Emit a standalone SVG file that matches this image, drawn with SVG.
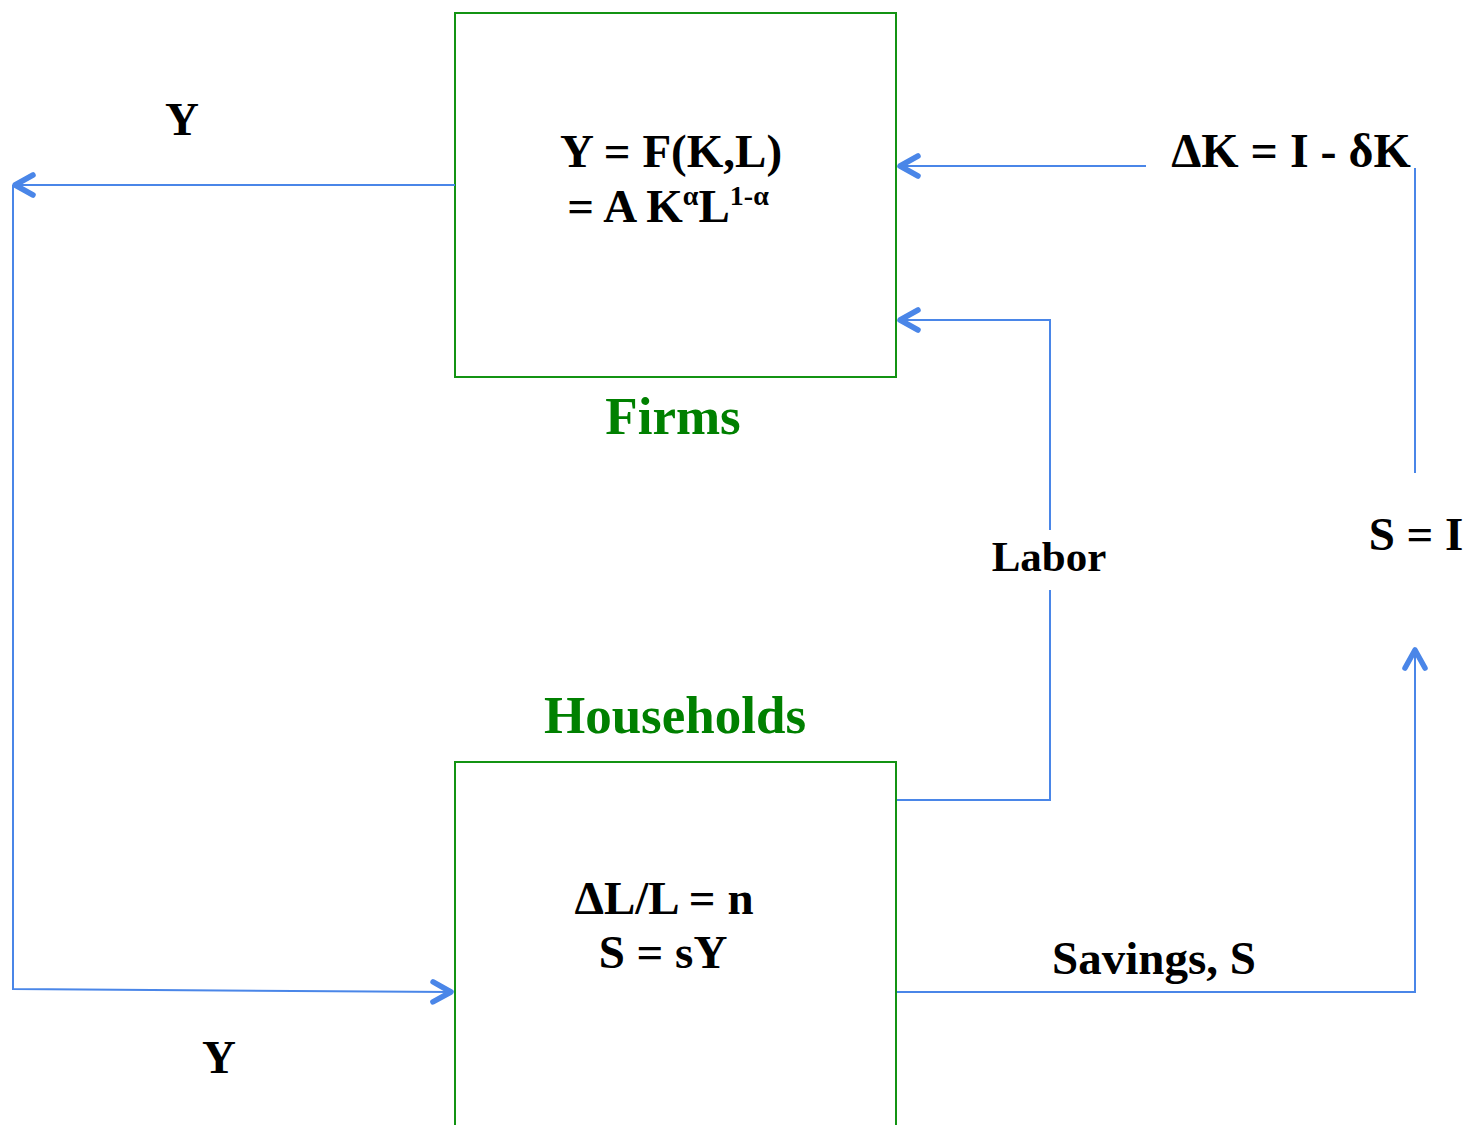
<svg xmlns="http://www.w3.org/2000/svg" width="1471" height="1125" viewBox="0 0 1471 1125">
<style>
  .box { fill: none; stroke: #139313; stroke-width: 2; }
  .t { font-family: "Liberation Serif", "Times New Roman", serif; font-weight: bold; fill: #000; text-anchor: middle; }
  .g { fill: #008000; font-size: 53px; }
  .c { fill: none; stroke: #4a86e8; stroke-width: 2; }
  .a { marker-end: url(#arr); }
</style>
<defs>
  <marker id="arr" markerUnits="userSpaceOnUse" markerWidth="40" markerHeight="40" viewBox="-25 -20 40 40" refX="0" refY="0" orient="auto" overflow="visible">
    <path d="M-18,-10 L0,0 L-18,10" fill="none" stroke="#4a86e8" stroke-width="5.5" stroke-linecap="round" stroke-linejoin="round"/>
  </marker>
</defs>
<rect width="1471" height="1125" fill="#fff"/>

<g id="firms">
  <rect class="box" x="455" y="13" width="441" height="364"/>
  <text class="t" x="671" y="167" font-size="47">Y = F(K,L)</text>
  <text class="t" x="668" y="222" font-size="47">= A K<tspan font-size="28" dy="-17">α</tspan><tspan dy="17">L</tspan><tspan font-size="28" dy="-17">1-α</tspan></text>
  <text class="t g" x="673" y="434">Firms</text>
</g>

<g id="households">
  <rect class="box" x="455" y="762" width="441" height="400"/>
  <text class="t g" x="675" y="733">Households</text>
  <text class="t" x="664" y="914" font-size="47">ΔL/L = n</text>
  <text class="t" x="663" y="968" font-size="47">S = sY</text>
</g>

<g id="connectors">
  <path class="c a" d="M455,185 H15"/>
  <path class="c a" d="M13,185 V989 L451,992"/>
  <path class="c a" d="M1146,166 H900"/>
  <path class="c" d="M1415,168 V473"/>
  <path class="c a" d="M897,992 H1415 V650"/>
  <path class="c" d="M897,800 H1050 V590"/>
  <path class="c a" d="M1050,530 V320 H900"/>
</g>

<g id="labels">
  <text class="t" x="182" y="135" font-size="47">Y</text>
  <text class="t" x="219" y="1073" font-size="47">Y</text>
  <text class="t" x="1291" y="167" font-size="48">ΔK = I - δK</text>
  <text class="t" x="1416" y="550" font-size="47">S = I</text>
  <text class="t" x="1049" y="571" font-size="43">Labor</text>
  <text class="t" x="1154" y="974" font-size="47">Savings, S</text>
</g>
</svg>
